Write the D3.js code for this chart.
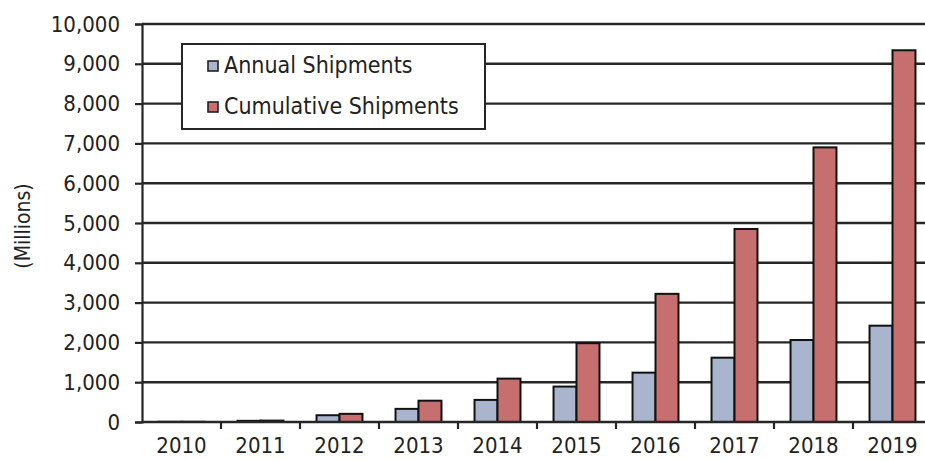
<!DOCTYPE html>
<html>
<head>
<meta charset="utf-8">
<script src="https://cdn.jsdelivr.net/npm/d3@7"></script>
<style>
  html, body { margin: 0; padding: 0; background: #fff; }
  svg { display: block; }
  text { font-family: "DejaVu Sans Condensed", "DejaVu Sans", sans-serif; font-stretch: condensed; fill: #222; }
</style>
</head>
<body>
<svg id="chart" width="925" height="461"></svg>
<script>
const years = ["2010","2011","2012","2013","2014","2015","2016","2017","2018","2019"];
const seriesNames = ["Annual Shipments", "Cumulative Shipments"];
const annual = [5, 30, 170, 330, 555, 890, 1240, 1616, 2060, 2420];
const cumulative = [5, 35, 205, 535, 1090, 1980, 3220, 4850, 6900, 9340];
const yTicks = [0,1000,2000,3000,4000,5000,6000,7000,8000,9000,10000];
const colors = ["#a8b5cd", "#c76f6e"];

const svg = d3.select("#chart");
const m = {left: 142, right: 932, top: 24, bottom: 422};
const FONT = '"DejaVu Sans Condensed", "DejaVu Sans", sans-serif';

const x = d3.scaleBand().domain(years).range([m.left, m.right]).padding(0);
const xs = d3.scaleBand().domain(seriesNames).range([0, x.bandwidth()]).paddingInner(0).paddingOuter(0.72);
const y = d3.scaleLinear().domain([0, 10000]).range([m.bottom, m.top]);

// gridlines
svg.append("g").selectAll("line").data(yTicks.filter(d => d > 0)).join("line")
  .attr("x1", m.left).attr("x2", m.right)
  .attr("y1", d => y(d)).attr("y2", d => y(d))
  .attr("stroke", "#262626").attr("stroke-width", 2.4);

// bars
const data = years.map((yr, i) => ({year: yr, vals: [annual[i], cumulative[i]]}));
const groups = svg.append("g").selectAll("g").data(data).join("g")
  .attr("transform", d => `translate(${x(d.year)},0)`);
groups.selectAll("rect").data(d => d.vals.map((v, j) => ({name: seriesNames[j], v, j}))).join("rect")
  .attr("x", d => xs(d.name))
  .attr("width", xs.bandwidth())
  .attr("y", d => y(d.v))
  .attr("height", d => m.bottom - y(d.v))
  .attr("fill", d => colors[d.j])
  .attr("stroke", "#111").attr("stroke-width", 2);

// y axis
const yAxis = svg.append("g").attr("transform", `translate(${m.left},0)`)
  .call(d3.axisLeft(y).tickValues(yTicks).tickFormat(d3.format(",")).tickSize(7).tickPadding(15));
yAxis.select(".domain").attr("stroke", "#262626").attr("stroke-width", 2.2);
yAxis.selectAll(".tick line").attr("stroke", "#262626").attr("stroke-width", 2.2);
yAxis.selectAll(".tick text").attr("font-size", 22).attr("fill", "#222")
  .style("font-family", FONT);

// x axis
const xAxis = svg.append("g").attr("transform", `translate(0,${m.bottom})`)
  .call(d3.axisBottom(x).tickSize(0).tickPadding(15));
xAxis.select(".domain").remove();
xAxis.selectAll(".tick text").attr("font-size", 22).attr("fill", "#222")
  .style("font-family", FONT);
svg.append("line").attr("x1", m.left).attr("x2", m.right).attr("y1", m.bottom).attr("y2", m.bottom)
  .attr("stroke", "#262626").attr("stroke-width", 2.4);
svg.append("g").selectAll("line").data(years.slice(1)).join("line")
  .attr("x1", d => x(d)).attr("x2", d => x(d))
  .attr("y1", m.bottom).attr("y2", m.bottom + 7)
  .attr("stroke", "#262626").attr("stroke-width", 2.2);

// y label
svg.append("text").attr("transform", "translate(30,226) rotate(-90)")
  .attr("text-anchor", "middle").attr("font-size", 21).text("(Millions)");

// legend
const lg = svg.append("g");
lg.append("rect").attr("x", 182).attr("y", 44).attr("width", 303).attr("height", 85)
  .attr("fill", "#fff").attr("stroke", "#262626").attr("stroke-width", 2);
seriesNames.forEach((n, i) => {
  const yy = 66 + i * 41;
  lg.append("rect").attr("x", 208).attr("y", yy - 5).attr("width", 10).attr("height", 10)
    .attr("fill", colors[i]).attr("stroke", "#222").attr("stroke-width", 1.6);
  lg.append("text").attr("x", 224).attr("y", yy + 7).attr("font-size", 23).text(n);
});
</script>
</body>
</html>
